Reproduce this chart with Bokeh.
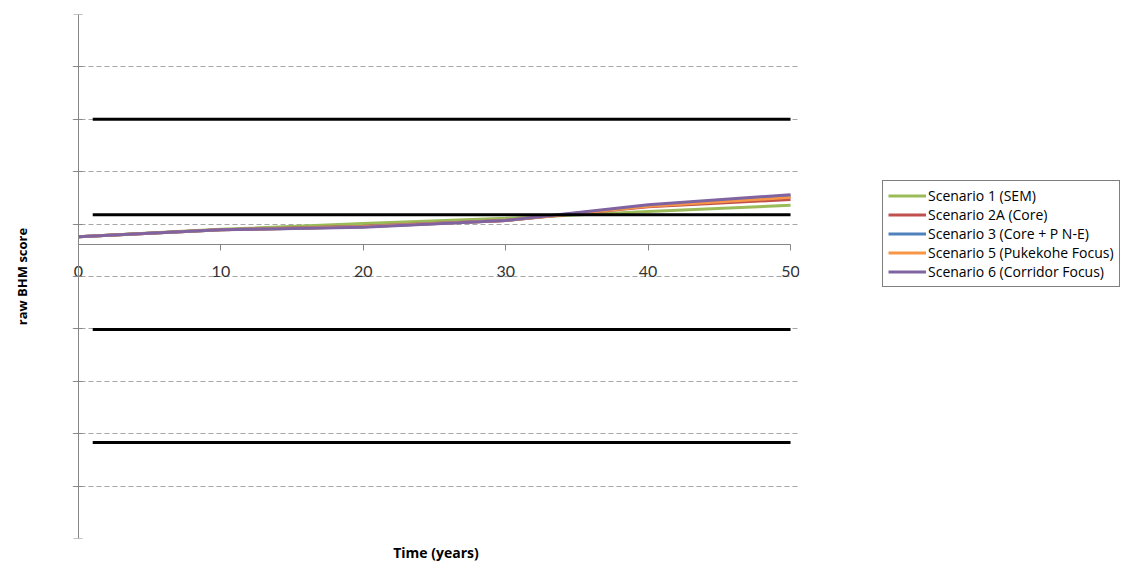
from bokeh.plotting import figure
from bokeh.models import Legend, LegendItem, Title, FixedTicker, LinearAxis
from bokeh.embed import file_html
from bokeh.resources import INLINE

# ---- data ----
years = [0, 10, 20, 30, 40, 50]
scenario_names = [
    "Scenario 1 (SEM)",
    "Scenario 2A (Core)",
    "Scenario 3 (Core + P N-E)",
    "Scenario 5 (Pukekohe Focus)",
    "Scenario 6 (Corridor Focus)",
]
s1_sem = [5.76, 5.90, 6.01, 6.11, 6.24, 6.36]
s2a_core = [5.76, 5.89, 5.96, 6.07, 6.33, 6.47]
s3_core_pne = [5.76, 5.89, 5.95, 6.07, 6.35, 6.53]
s5_pukekohe = [5.76, 5.89, 5.95, 6.07, 6.34, 6.51]
s6_corridor = [5.76, 5.89, 5.94, 6.07, 6.37, 6.56]
scenario_colors = ["#9BBB59", "#C0504D", "#4F81BD", "#F79646", "#8064A2"]

threshold_x = [1, 50]
threshold_levels = [8.0, 6.18, 3.99, 1.83]

y_ticks = list(range(0, 11))
x_ticks = [0, 10, 20, 30, 40, 50]
AXIS_CROSS = 5.61

p = figure(
    frame_width=727, frame_height=524,
    x_range=(-0.42, 50.63), y_range=(0, 10),
    min_border_left=72, min_border_right=326, min_border_top=14, min_border_bottom=20,
    output_backend="svg", toolbar_location=None,
)
p.outline_line_color = None
p.background_fill_color = "white"
p.border_fill_color = "white"

# grid
p.xgrid.grid_line_color = None
p.ygrid.ticker = FixedTicker(ticks=y_ticks)
p.ygrid.grid_line_color = "#a6a6a6"
p.ygrid.grid_line_dash = "5 3"
p.ygrid.grid_line_width = 1

# y axis (crossing at x = 0)
p.yaxis.ticker = FixedTicker(ticks=y_ticks)
p.yaxis.fixed_location = 0
p.yaxis.bounds = (0, 10)
p.yaxis.major_label_overrides = {t: "" for t in y_ticks}
p.yaxis.minor_tick_line_color = None
p.yaxis.major_tick_in = 4
p.yaxis.major_tick_out = 5
p.yaxis.axis_line_color = "#868686"
p.yaxis.major_tick_line_color = "#868686"

# y axis title holder
ytitle = LinearAxis(ticker=FixedTicker(ticks=[]), axis_line_color=None,
                    major_tick_line_color=None, minor_tick_line_color=None,
                    axis_label="raw BHM score", axis_label_text_font="Open Sans",
                    axis_label_text_font_style="bold", axis_label_text_font_size="13px",
                    axis_label_text_color="#000000", axis_label_standoff=42)
p.add_layout(ytitle, "left")

# x axis
p.xaxis.ticker = FixedTicker(ticks=x_ticks)
p.xaxis.fixed_location = AXIS_CROSS
p.xaxis.bounds = (0, 50)
p.xaxis.minor_tick_line_color = None
p.xaxis.major_tick_in = 0
p.xaxis.major_tick_out = 6
p.xaxis.axis_line_color = "#868686"
p.xaxis.major_tick_line_color = "#868686"
p.xaxis.major_label_text_font = "Lato"
p.xaxis.major_label_text_font_size = "16px"
p.xaxis.major_label_text_color = "#333333"
p.xaxis.major_label_standoff = 15

p.add_layout(Title(text="Time (years)", align="center", text_font="Open Sans",
                   text_font_style="bold", text_font_size="14px",
                   text_color="#000000", standoff=4, offset=0), "below")

# scenario lines
series = [s1_sem, s2a_core, s3_core_pne, s5_pukekohe, s6_corridor]
items = []
for name, vals, col in zip(scenario_names, series, scenario_colors):
    r = p.line(years, vals, line_color=col, line_width=3)
    items.append(LegendItem(label=name, renderers=[r]))

# threshold lines
for lvl in threshold_levels:
    p.line(threshold_x, [lvl, lvl], line_color="black", line_width=3)

legend = Legend(items=items, location=(83, 251))
legend.border_line_color = "black"
legend.border_line_width = 1
legend.background_fill_color = "white"
legend.background_fill_alpha = 1
legend.label_text_font = "Open Sans"
legend.label_text_font_size = "14px"
legend.label_text_color = "#000000"
legend.glyph_width = 38
legend.glyph_height = 11
legend.label_height = 11
legend.label_standoff = 2
legend.spacing = 0
legend.padding = 5
legend.margin = 0
p.add_layout(legend, "right")

open("out.html", "w").write(file_html(p, INLINE))
